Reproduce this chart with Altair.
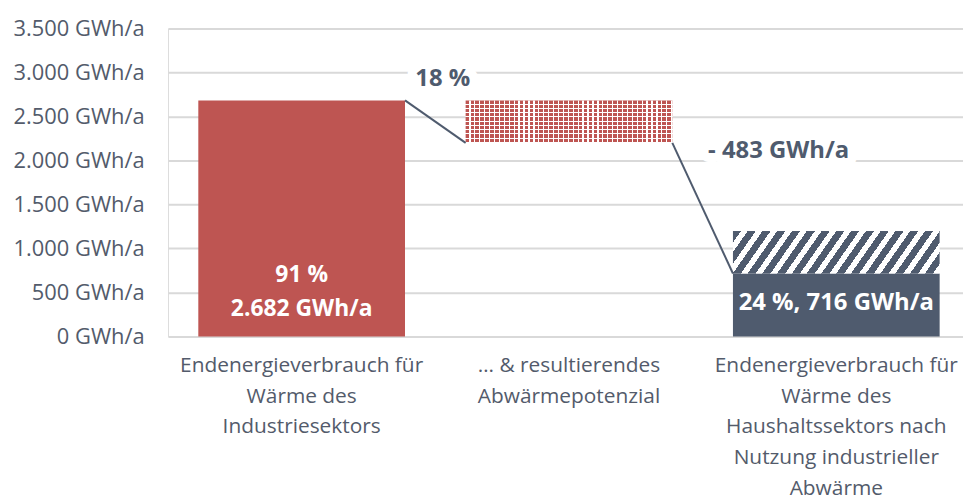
import altair as alt
import pandas as pd

# ---------------- data ----------------
categories = [
    "Endenergieverbrauch für\nWärme des\nIndustriesektors",
    "… & resultierendes\nAbwärmepotenzial",
    "Endenergieverbrauch für\nWärme des\nHaushaltssektors nach\nNutzung industrieller\nAbwärme",
]

seg_category = [categories[0], categories[1], categories[2], categories[2]]
seg_start = [0, 2199, 0, 716]
seg_end = [2682, 2682, 716, 1199]
seg_kind = ["industry", "potential", "household", "covered"]

conn_from = [categories[0], categories[1]]
conn_to = [categories[1], categories[2]]
conn_from_value = [2682, 2199]
conn_to_value = [2199, 716]

y_ticks = [0, 500, 1000, 1500, 2000, 2500, 3000, 3500]

industry_label = "91 %\n2.682 GWh/a"
household_label = "24 %, 716 GWh/a"
share_label = "18 %"
delta_label = "- 483 GWh/a"

# ---------------- styles ----------------
RED = "#be5552"
DARK = "#4f5b6e"
LABEL = "#535b6b"
GRID = "#d9d9d9"
FONT = "Open Sans"


def stripe_stops(c_a, c_b, n, frac):
    stops = []
    for k in range(n):
        o0, o1, o2 = k / n, (k + frac) / n, (k + 1) / n
        stops += [
            alt.GradientStop(color=c_a, offset=o0),
            alt.GradientStop(color=c_a, offset=o1),
            alt.GradientStop(color=c_b, offset=o1),
            alt.GradientStop(color=c_b, offset=o2),
        ]
    return stops


# diagonal hatch ("/") for the covered part of the household bar
hatch = alt.LinearGradient(
    gradient="linear",
    stops=stripe_stops(DARK, "white", 16, 0.55),
    x1=0, y1=0, x2=1.1205, y2=0.1612,
)
# dotted grid for the waste-heat potential bar
rows = alt.LinearGradient(
    gradient="linear",
    stops=stripe_stops(RED, "white", 10, 0.78),
    x1=0, y1=0, x2=0, y2=1,
)
cols = alt.LinearGradient(
    gradient="linear",
    stops=stripe_stops("rgba(255,255,255,0)", "white", 42, 0.74),
    x1=0, y1=0, x2=1, y2=0,
)

segments = pd.DataFrame(
    {"category": seg_category, "start": seg_start, "end": seg_end, "kind": seg_kind}
)
connectors = pd.DataFrame(
    {"from": conn_from, "to": conn_to, "v0": conn_from_value, "v1": conn_to_value}
)

x_scale = alt.Scale(domain=categories, range=[0, 807], paddingInner=0.2268, paddingOuter=0.1134)
y_scale = alt.Scale(domain=[0, 3500], nice=False)

x_axis = alt.Axis(
    title=None, domain=False, ticks=False, tickSize=0, labelAngle=0,
    labelExpr="split(datum.label, '\\n')", labelFont=FONT, labelFontSize=21,
    labelColor=LABEL, labelLineHeight=31, labelBaseline="alphabetic",
    labelPadding=35, labelLimit=0, labelOverlap=False, grid=False,
)
y_axis = alt.Axis(
    title=None, values=y_ticks, domain=False, ticks=False, tickSize=0,
    labelExpr="replace(format(datum.value, ','), ',', '.') + ' GWh/a'",
    labelFont=FONT, labelFontSize=22, labelColor=LABEL, labelPadding=24,
    grid=True, gridColor=GRID, gridWidth=2, labelLimit=0,
)


def X(field):
    return alt.X(f"{field}:N", scale=x_scale, sort=categories, axis=x_axis)


def Y(field):
    return alt.Y(f"{field}:Q", scale=y_scale, axis=y_axis)


base = alt.Chart(segments)

bar_industry = base.transform_filter("datum.kind == 'industry'").mark_bar(color=RED).encode(
    x=X("category"), y=Y("start"), y2="end")
bar_pot_rows = base.transform_filter("datum.kind == 'potential'").mark_bar(fill=rows).encode(
    x=X("category"), y=Y("start"), y2="end")
bar_pot_cols = base.transform_filter("datum.kind == 'potential'").mark_bar(fill=cols).encode(
    x=X("category"), y=Y("start"), y2="end")
bar_house = base.transform_filter("datum.kind == 'household'").mark_bar(color=DARK).encode(
    x=X("category"), y=Y("start"), y2="end")
bar_cover = base.transform_filter("datum.kind == 'covered'").mark_bar(fill=hatch).encode(
    x=X("category"), y=Y("start"), y2="end")

rules = alt.Chart(connectors).mark_rule(color=DARK, strokeWidth=2).encode(
    x=alt.X("from:N", scale=x_scale, sort=categories, axis=x_axis, bandPosition=1),
    x2=alt.X2("to", bandPosition=0),
    y=Y("v0"), y2="v1",
)

share_df = pd.DataFrame({"category": [categories[1]], "value": [seg_end[0]], "label": [share_label]})
delta_df = pd.DataFrame({"category": [categories[2]], "value": [seg_start[1]], "label": [delta_label]})


def ann(df, dx, dy, halo):
    kw = dict(font=FONT, fontSize=24, fontWeight="bold", dx=dx, dy=dy, baseline="alphabetic", align="center")
    if halo:
        kw.update(fill="white", stroke="white", strokeWidth=18, strokeJoin="round")
    else:
        kw.update(color=DARK)
    return alt.Chart(df).mark_text(**kw).encode(x=X("category"), y=Y("value"), text="label:N")


ind_df = pd.DataFrame({"category": [categories[0]], "value": [0], "label": [industry_label]})
house_df = pd.DataFrame({"category": [categories[2]], "value": [0], "label": [household_label]})

ind_text = alt.Chart(ind_df).transform_calculate(lines="split(datum.label, '\\n')").mark_text(
    font=FONT, fontSize=23, fontWeight="bold", color="white", dy=-55, lineHeight=34,
    baseline="alphabetic", align="center",
).encode(x=X("category"), y=Y("value"), text="lines:N")

house_text = alt.Chart(house_df).mark_text(
    font=FONT, fontSize=24, fontWeight="bold", color="white", dy=-27,
    baseline="alphabetic", align="center",
).encode(x=X("category"), y=Y("value"), text="label:N")

chart = alt.layer(
    ann(share_df, -127, -15, True),
    ann(delta_df, -58, 15, True),
    bar_industry, bar_pot_rows, bar_pot_cols, bar_house, bar_cover,
    rules,
    ann(share_df, -127, -15, False),
    ann(delta_df, -58, 15, False),
    ind_text, house_text,
).properties(
    width=800, height=310,
    autosize=alt.AutoSizeParams(type="none"),
    padding={"left": 161, "top": 19, "right": 0, "bottom": 162},
).configure_view(stroke=None).configure(background="white")

chart.save("out.html", embed_options={"renderer": "svg", "actions": False})
